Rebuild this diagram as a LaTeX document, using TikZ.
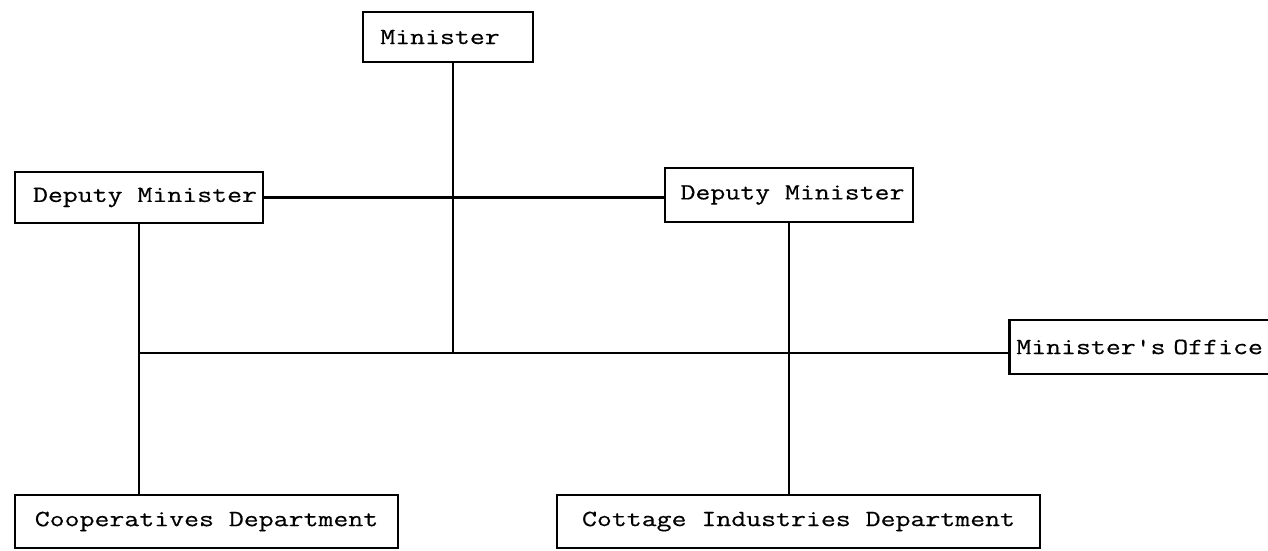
\documentclass[tikz,border=0pt]{standalone}
\usepackage{fontspec}
\setmonofont{Latin Modern Mono}[FakeStretch=1.25, FakeBold=0.4]
\usetikzlibrary{positioning}

\begin{document}
\begin{tikzpicture}[x=0.02cm, y=-0.02cm, font=\ttfamily\fontsize{13.2}{16}\selectfont,
  orgbox/.style={draw, line width=1.5pt, inner sep=0pt, fill=white},
  link/.style={line width=1.2pt}]
  \useasboundingbox (0,0) rectangle (1268,551);
  % boxes
  \node[orgbox, minimum width=3.4cm, minimum height=1cm] (minister) at (448,37) {Minister\hspace*{0.32cm}};
  \node[orgbox, minimum width=4.96cm, minimum height=1.02cm] (depleft) at (139,197.5) {\hspace*{0.24cm}Deputy Minister};
  \node[orgbox, minimum width=4.96cm, minimum height=1.08cm] (depright) at (789,195) {\hspace*{0.14cm}Deputy Minister};
  \node[orgbox, anchor=west, text width=6cm, align=left, inner xsep=0.14cm, minimum height=1.08cm] (office) at (1008,347) {Minister's Office};
  \node[orgbox, minimum width=7.66cm, minimum height=1.06cm] (coop) at (206.5,521.5) {Cooperatives Department};
  \node[orgbox, minimum width=9.66cm, minimum height=1.06cm] (cottage) at (798.5,521.5) {Cottage Industries Department};
  \coordinate (hub) at (453,353);
  % connectors
  \draw[link] (minister.south -| hub) -- (hub);
  \draw[link] (depleft.east) -- (depleft.east -| depright.west);
  \draw[link] (depleft.south) -- (coop.north -| depleft.south);
  \draw[link] (depleft.south |- hub) -- (hub -| office.west);
  \draw[link] (depright.south) -- (cottage.north -| depright.south);
\end{tikzpicture}
\end{document}
